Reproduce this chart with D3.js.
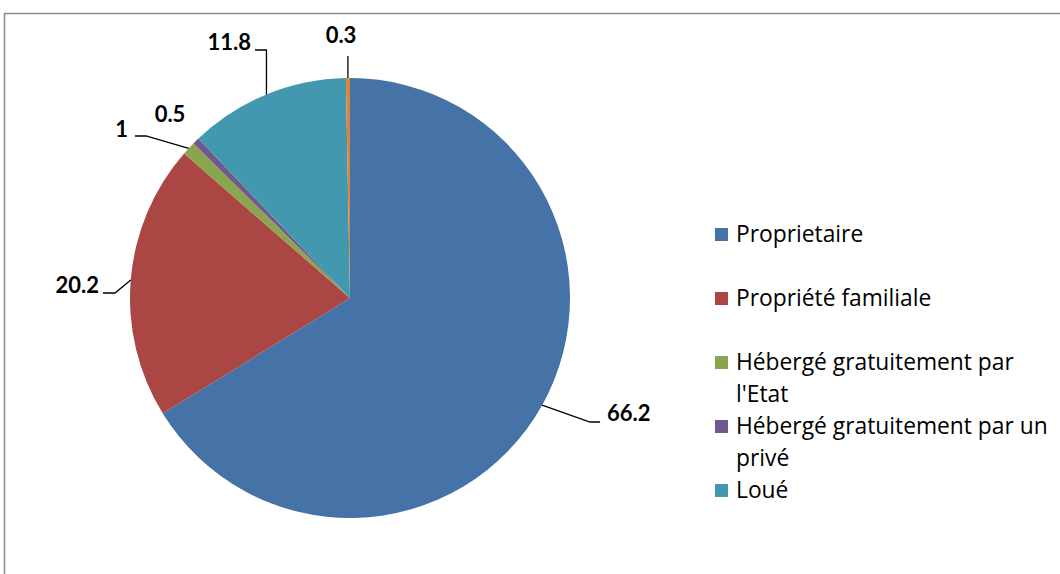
<!DOCTYPE html>
<html><head><meta charset="utf-8">
<script src="https://cdn.jsdelivr.net/npm/d3@7"></script>
<style>body{margin:0;background:#fff}svg{display:block}</style>
</head><body>
<svg id="c" width="1060" height="574"></svg>
<script>
const categories = ["Proprietaire","Propriété familiale","Hébergé gratuitement par l'Etat","Hébergé gratuitement par un privé","Loué","Autre"];
const values = [66.2, 20.2, 1, 0.5, 11.8, 0.3];
const legendLines = [["Proprietaire"],["Propriété familiale"],["Hébergé gratuitement par","l'Etat"],["Hébergé gratuitement par un","privé"],["Loué"]];
const colors = ["#4572A7","#AA4643","#89A54E","#71588F","#4198AF","#DB843D"];

const svg = d3.select("#c");
svg.append("rect").attr("x",4.5).attr("y",13.5).attr("width",1100).attr("height",600)
  .attr("fill","none").attr("stroke","#8c8c8c").attr("stroke-width",1.5);

const cx = 350, cy = 298, R = 220;
const g = svg.append("g").attr("transform",`translate(${cx},${cy})`);
const pie = d3.pie().sort(null).value(d=>d)(values);
const arc = d3.arc().innerRadius(0).outerRadius(R);
g.selectAll("path").data(pie).join("path").attr("d",arc).attr("fill",(d,i)=>colors[i]);

// label layout: text position (abs) and leader elbows
const labelLayout = [
  {tx:607, ty:421, anchor:"start", path:(a)=>[a,[590,422],[600,422]]},
  {tx:99, ty:293, anchor:"end", path:(a)=>[a,[115,293],[103,293]]},
  {tx:128, ty:137, anchor:"end", path:(a)=>[a,[146,136],[135,136]]},
  {tx:170, ty:122, anchor:"middle", path:null},
  {tx:251, ty:50, anchor:"end", path:(a)=>[a,[a[0],50],[255,50]]},
  {tx:341, ty:43, anchor:"middle", path:(a)=>[a,[a[0],56]]}
];
const line = d3.line();
pie.forEach((d,i)=>{
  const m = (d.startAngle+d.endAngle)/2;
  const a = [cx + R*Math.sin(m), cy - R*Math.cos(m)];
  const L = labelLayout[i];
  if (L.path) {
    svg.append("path").attr("d",line(L.path(a))).attr("fill","none").attr("stroke","#000").attr("stroke-width",1.3);
  }
  svg.append("text").attr("x",L.tx).attr("y",L.ty).attr("text-anchor",L.anchor)
    .attr("font-family","Lato").attr("font-weight","bold").attr("font-size",22).attr("fill","#000")
    .text(String(values[i]));
});

// legend
const lg = svg.append("g");
legendLines.forEach((lines,i)=>{
  const baseY = 242 + i*64;
  lg.append("rect").attr("x",715).attr("y",baseY-14).attr("width",13).attr("height",13).attr("fill",colors[i]);
  lines.forEach((t,j)=>{
    lg.append("text").attr("x",736).attr("y",baseY + j*32).attr("font-family","Open Sans").attr("font-size",22.8).attr("fill","#000").text(t);
  });
});
</script>
</body></html>
